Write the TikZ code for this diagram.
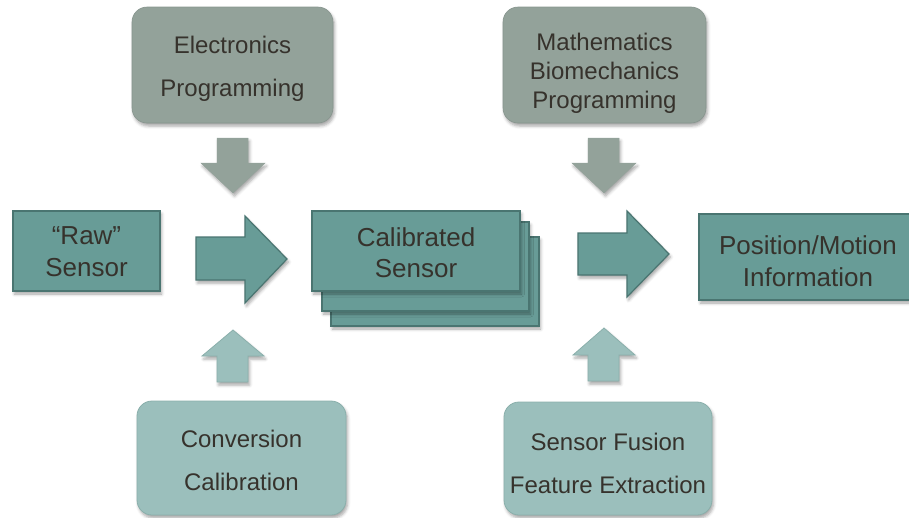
\documentclass[tikz,border=0pt]{standalone}
\usepackage{fontspec}
\setmainfont{Liberation Sans}
\usetikzlibrary{shadows.blur}

\definecolor{tealfill}{HTML}{689C97}
\definecolor{tealline}{HTML}{4A7571}
\definecolor{grayfill}{HTML}{93A29A}
\definecolor{lightfill}{HTML}{9BBFBC}
\definecolor{lightline}{HTML}{8AAFAB}
\definecolor{inkcol}{HTML}{36322C}

% centred lines of text, moved down by #1 without changing the box size
\newcommand\dropped[2]{\raisebox{-#1}[\height][\depth]{\begin{tabular}{@{}c@{}}#2\end{tabular}}}

\tikzset{
  softshadow/.style={blur shadow={shadow xshift=1.5pt, shadow yshift=-3pt,
      shadow blur radius=3pt, shadow opacity=35}},
  flowbox/.style={rectangle, draw=tealline, line width=1.2pt, fill=tealfill,
      text=inkcol, align=center, inner sep=0pt, softshadow,
      font=\fontsize{26}{31}\selectfont},
  topbox/.style={rectangle, rounded corners=15pt, fill=grayfill, draw=grayfill!92!black,
      line width=0.6pt, text=inkcol, align=center, inner sep=0pt, softshadow,
      font=\fontsize{24}{43}\selectfont},
  botbox/.style={rectangle, rounded corners=15pt, fill=lightfill, draw=lightline,
      line width=0.8pt, text=inkcol, align=center, inner sep=0pt, softshadow,
      font=\fontsize{24}{43}\selectfont},
  mainarrow/.style={fill=tealfill, draw=tealline, line width=1.2pt, line join=miter, softshadow},
  grayarrow/.style={fill=grayfill, draw=grayfill, line width=0.5pt, softshadow},
  lightarrow/.style={fill=lightfill, draw=lightline, line width=0.8pt, softshadow},
}

\begin{document}
\begin{tikzpicture}[x=1pt, y=-1pt]
  \useasboundingbox (0,0) rectangle (909,517);
  \clip (0,0) rectangle (909,517);

  % inputs above
  \node[topbox, minimum width=201pt, minimum height=116pt] (elec) at (232.5,65)
    {\dropped{1pt}{Electronics\\Programming}};
  \node[topbox, minimum width=203pt, minimum height=116pt,
        font=\fontsize{24}{29}\selectfont] (math) at (604.5,65)
    {\dropped{8.5pt}{Mathematics\\Biomechanics\\Programming}};

  % inputs below
  \node[botbox, minimum width=209pt, minimum height=114pt] (conv) at (241.5,458)
    {\dropped{2.5pt}{Conversion\\Calibration}};
  \node[botbox, minimum width=208pt, minimum height=113pt] (fusion) at (608,458.5)
    {\dropped{5pt}{Sensor Fusion\\Feature Extraction}};

  % main flow
  \node[flowbox, minimum width=147pt, minimum height=80pt,
        font=\fontsize{26}{32}\selectfont] (raw) at (86.5,251)
    {\dropped{3pt}{“Raw”\\Sensor}};

  \node[flowbox, minimum width=208pt, minimum height=89pt] (cal3) at (435,281.5) {};
  \node[flowbox, minimum width=207pt, minimum height=89pt] (cal2) at (425.5,266.5) {};
  \node[flowbox, minimum width=208pt, minimum height=80pt] (cal) at (416,251)
    {\dropped{4.5pt}{Calibrated\\Sensor}};

  \node[flowbox, minimum width=218pt, minimum height=86pt,
        font=\fontsize{26}{32}\selectfont] (info) at (808,257)
    {\dropped{7.5pt}{Position/Motion\\Information}};

  % block arrows of the main flow
  \draw[mainarrow] (196,237) -- (245,237) -- (245,216) -- (287,259)
    -- (245,303) -- (245,280) -- (196,280) -- cycle;
  \draw[mainarrow] (578,233) -- (627,233) -- (627,211) -- (669,254)
    -- (627,297) -- (627,275) -- (578,275) -- cycle;

  % arrows from the upper inputs
  \draw[grayarrow] (217,138) -- (248,138) -- (248,163) -- (265,163) -- (233,193)
    -- (201,163) -- (217,163) -- cycle;
  \draw[grayarrow] (588,138) -- (619,138) -- (619,163) -- (636,163) -- (604,193)
    -- (572,163) -- (588,163) -- cycle;

  % arrows from the lower inputs
  \draw[lightarrow] (217,382) -- (248,382) -- (248,356) -- (264,356) -- (233,330)
    -- (202,356) -- (217,356) -- cycle;
  \draw[lightarrow] (588,381) -- (619,381) -- (619,355) -- (635,355) -- (604,328)
    -- (573,355) -- (588,355) -- cycle;
\end{tikzpicture}
\end{document}
